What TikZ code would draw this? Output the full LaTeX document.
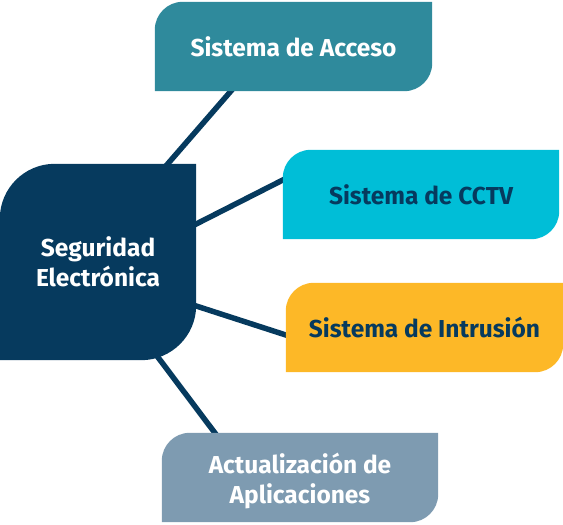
\documentclass[tikz,border=0pt]{standalone}
\usepackage{fontspec}
\setmainfont{Fira Sans}
\pgfdeclarelayer{lines}
\pgfdeclarelayer{boxes}
\pgfsetlayers{lines,boxes,main}
\definecolor{navy}{HTML}{063A5E}
\definecolor{teal}{HTML}{2F8A9C}
\definecolor{cyanb}{HTML}{00BED7}
\definecolor{amber}{HTML}{FDB827}
\definecolor{grayblue}{HTML}{7E9BB1}
\tikzset{
  boxtext/.style={inner sep=0pt, align=center, font=\fontsize{24.5}{30}\selectfont\bfseries},
  leaf/.style={boxtext, minimum width=277pt, minimum height=89pt},
  link/.style={draw=navy, line width=5.5pt, shorten <=-6pt, shorten >=-6pt},
}
% #1 node, #2 radius, #3 colour
\newcommand\roundbox[3]{%
  \fill[#3] (#1.south west) -- ([yshift=-#2]#1.north west)
    arc[start angle=180,end angle=90,radius=#2] -- (#1.north east)
    -- ([yshift=#2]#1.south east) arc[start angle=0,end angle=-90,radius=#2] -- cycle;}
\begin{document}
\begin{tikzpicture}[x=1pt,y=1pt]
\useasboundingbox (0,0) rectangle (563,525);
\node[boxtext, text=white, minimum width=196pt, minimum height=196pt] (c) at (98,263) {Seguridad\\Electrónica};
\node[leaf, text=white] (acc) at (293.5,478.5) {Sistema de Acceso};
\node[leaf, text=navy, minimum width=276pt] (cctv) at (421,330.5) {Sistema de CCTV};
\node[leaf, text=navy] (intr) at (424.5,197.5) {Sistema de Intrusión};
\node[leaf, minimum width=276pt] (act) at (300,47.5) {};
\node[boxtext, text=white] (actt) at ([yshift=-3.5pt]act.center) {Actualización de\\Aplicaciones};
\begin{pgfonlayer}{boxes}
\roundbox{c}{55pt}{navy}
\roundbox{acc}{28pt}{teal}
\roundbox{cctv}{28pt}{cyanb}
\roundbox{intr}{28pt}{amber}
\roundbox{act}{28pt}{grayblue}
\end{pgfonlayer}
\begin{pgfonlayer}{lines}
\draw[link] ([xshift=168pt]c.north west) -- ([xshift=76pt]acc.south west);
\draw[link] ([yshift=38pt]c.east) -- ([yshift=14.5pt]cctv.west);
\draw[link] ([yshift=-44pt]c.east) -- ([yshift=-7.5pt]intr.west);
\draw[link] ([xshift=-39pt,yshift=4pt]c.south east) -- ([xshift=53pt]act.north west);
\end{pgfonlayer}
\end{tikzpicture}
\end{document}
